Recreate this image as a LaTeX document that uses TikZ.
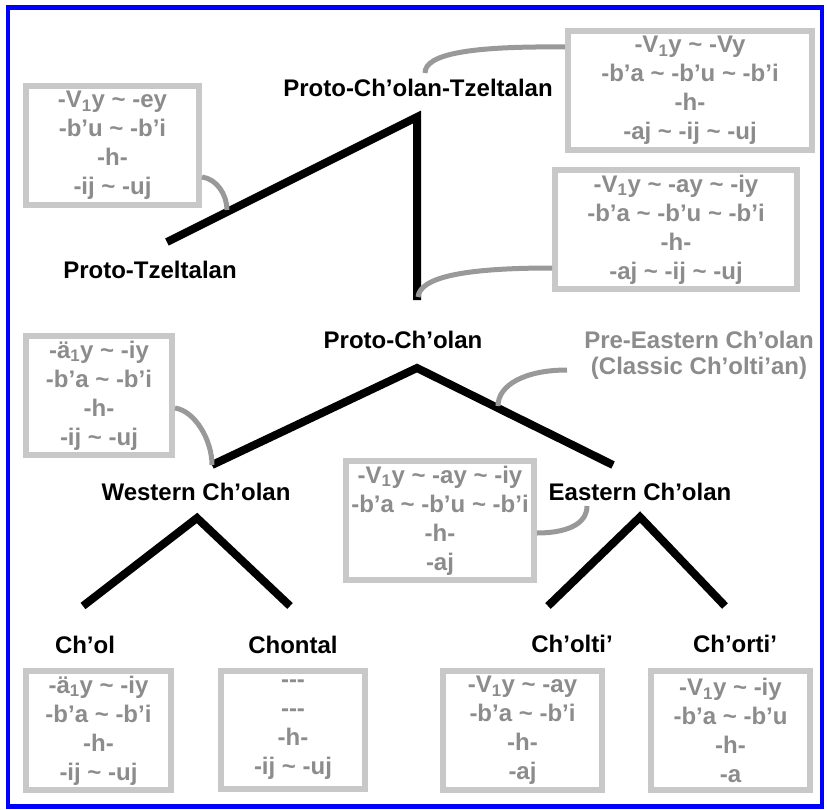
\documentclass[tikz,border=0pt]{standalone}
\usepackage{fontspec}
\setmainfont{Liberation Sans}
\usetikzlibrary{calc}
\definecolor{boxgray}{HTML}{C8C8C8}
\definecolor{txtgray}{HTML}{8C8C8C}
\definecolor{curvegray}{HTML}{999999}
\definecolor{frameblue}{HTML}{0000FF}
\newcommand\tld{\textasciitilde}
\newcommand\sub[1]{\textsubscript{#1}}
\begin{document}
\begin{tikzpicture}[x=1pt,y=-1pt,
  lbl/.style={font=\bfseries\fontsize{24}{28}\selectfont, text=black, inner sep=0pt},
  glbl/.style={font=\bfseries\fontsize{24}{26}\selectfont, text=txtgray, inner sep=0pt, align=center},
  formbox/.style={draw=boxgray, line width=6pt, text=txtgray, align=center,
     font=\bfseries\fontsize{24}{29}\selectfont, inner sep=0pt, minimum height=119pt},
  branch/.style={line width=8pt, line join=miter, line cap=butt},
  link/.style={draw=curvegray, line width=5pt}]
\useasboundingbox (0,0) rectangle (827,809);
\fill[white] (0,0) rectangle (827,809);
\draw[frameblue, line width=4.5pt] (8,7.5) rectangle (822,806.5);

% tree coordinates
\coordinate (tA) at (417,117);
\coordinate (tL) at (167,242);
\coordinate (tB) at (417,300);
\coordinate (pA) at (417,368);
\coordinate (pL) at (212,465);
\coordinate (pR) at (613,465);
\coordinate (wA) at (197,518);
\coordinate (wL) at (83,606);
\coordinate (wR) at (290,606);
\coordinate (eA) at (640,517);
\coordinate (eL) at (548,606);
\coordinate (eR) at (725,606);

% labels
\node[lbl] (lPCT) at (418,88) {Proto-Ch’olan-Tzeltalan};
\node[lbl] (lPT) at (150,270) {Proto-Tzeltalan};
\node[lbl] (lPC) at (403,340) {Proto-Ch’olan};
\node[glbl] (lPE) at (699,355) {Pre-Eastern Ch’olan\\(Classic Ch’olti’an)};
\node[lbl] (lW) at (196,492) {Western Ch’olan};
\node[lbl] (lE) at (640,492) {Eastern Ch’olan};
\node[lbl] (lCh) at (85,645) {Ch’ol};
\node[lbl] (lCn) at (293,645) {Chontal};
\node[lbl] (lCi) at (572,644) {Ch’olti’};
\node[lbl] (lCr) at (735,644) {Ch’orti’};

% boxes
\node[formbox, minimum width=173pt] (bTL) at (112.5,145.5)
  {-V\sub{1}y \tld\ -ey\\-b’u \tld\ -b’i\\-h-\\-ij \tld\ -uj};
\node[formbox, minimum width=244pt] (bTR1) at (690,90.5)
  {-V\sub{1}y \tld\ -Vy\\-b’a \tld\ -b’u \tld\ -b’i\\-h-\\-aj \tld\ -ij \tld\ -uj};
\node[formbox, minimum width=242pt] (bTR2) at (676,229.5)
  {-V\sub{1}y \tld\ -ay \tld\ -iy\\-b’a \tld\ -b’u \tld\ -b’i\\-h-\\-aj \tld\ -ij \tld\ -uj};
\node[formbox, minimum width=146pt] (bW) at (99,395.5)
  {-ä\sub{1}y \tld\ -iy\\-b’a \tld\ -b’i\\-h-\\-ij \tld\ -uj};
\node[formbox, minimum width=188pt] (bM) at (440,520.5)
  {-V\sub{1}y \tld\ -ay \tld\ -iy\\-b’a \tld\ -b’u \tld\ -b’i\\-h-\\-aj};
\node[formbox, minimum width=145pt] (bCh) at (98.5,730.5)
  {-ä\sub{1}y \tld\ -iy\\-b’a \tld\ -b’i\\-h-\\-ij \tld\ -uj};
\node[formbox, minimum width=144pt, minimum height=118pt] (bCn) at (293,730)
  {-{}-{}-\\-{}-{}-\\-h-\\-ij \tld\ -uj};
\node[formbox, minimum width=159pt] (bCi) at (522.5,730.5)
  {-V\sub{1}y \tld\ -ay\\-b’a \tld\ -b’i\\-h-\\-aj};
\node[formbox, minimum width=159pt] (bCr) at (730.5,730.5)
  {-V\sub{1}y \tld\ -iy\\-b’a \tld\ -b’u\\-h-\\-a};

% branches
\draw[branch] (tL) -- (tA) -- (tB);
\draw[branch] (pL) -- (pA) -- (pR);
\draw[branch] (wL) -- (wA) -- (wR);
\draw[branch] (eL) -- (eA) -- (eR);

% link curves
\coordinate (k1) at (425,73);
\coordinate (k2) at (227,210);
\coordinate (k3) at (418,297);
\coordinate (k5) at (498,406);
\coordinate (k6) at (587,506);
\coordinate (s5) at (567,370);
\draw[link] ($(bTR1.west)+(0,-43.5)$) .. controls (470,46) and (425,54) .. (k1);
\draw[link] ($(bTL.east)+(0,31.5)$) .. controls (217,179) and (227,195) .. (k2);
\draw[link] ($(bTR2.west)+(0,38.5)$) .. controls (460,268) and (420,278) .. (k3);
\draw[link] ($(bW.east)+(0,12.5)$) .. controls (195,411) and (212,440) .. (pL);
\draw[link] (s5) .. controls (525,370) and (498,385) .. (k5);
\draw[link] ($(bM.east)+(0,12.5)$) .. controls (565,533) and (587,525) .. (k6);
\end{tikzpicture}
\end{document}
